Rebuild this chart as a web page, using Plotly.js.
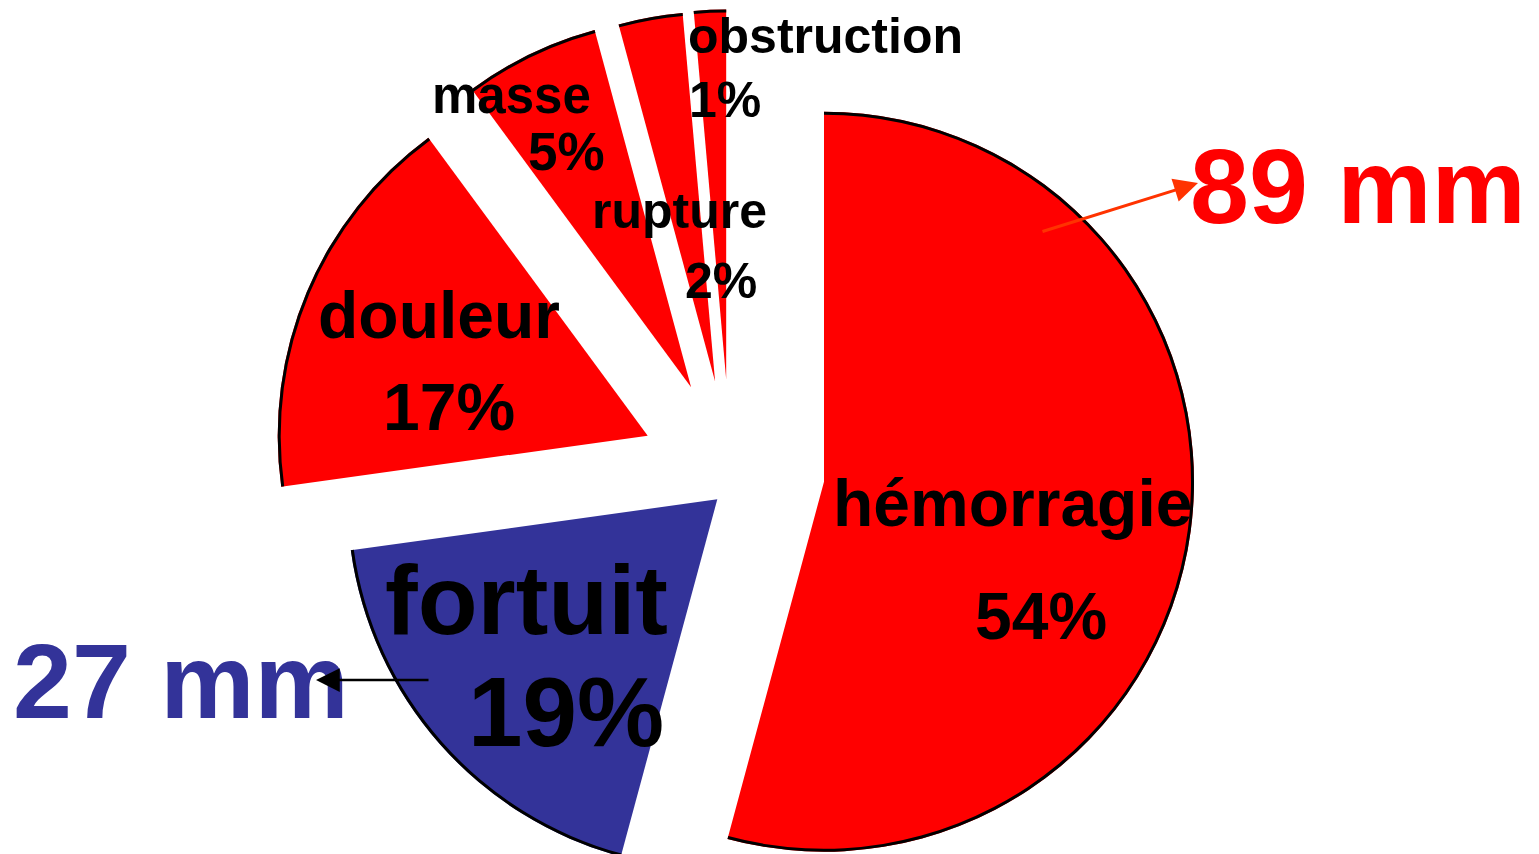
<!DOCTYPE html>
<html><head><meta charset="utf-8">
<script src="https://cdn.plot.ly/plotly-3.0.1.min.js"></script>
<style>
html,body{margin:0;padding:0;overflow:hidden;background:#fff}
#wrap{width:1539px;height:854px;overflow:hidden;position:relative}
#chart{width:1539px;height:874px;position:absolute;left:0;top:0}
</style>
</head><body><div id="wrap"><div id="chart"></div></div>
<script>
// ---- data ----
const categories = ['hémorragie', 'fortuit', 'douleur', 'masse', 'rupture', 'obstruction'];
const values = [54.2, 18.6, 17.1, 5.9, 2.8, 1.4];
const percentLabels = ['54%', '19%', '17%', '5%', '2%', '1%'];
const sizeLabels = ['89 mm', '27 mm'];

// ---- layout / style (pixels) ----
const W = 1539, H = 874, R = 370;
const sliceColors = ['#FF0000', '#333399', '#FF0000', '#FF0000', '#FF0000', '#FF0000'];
// apex of each exploded slice (screen px)
const apex = [[824, 481.7], [717.3, 499.3], [647.7, 435.7], [691.1, 387.3], [715.1, 381.6], [726.2, 379.5]];
// label centres: [nameX, nameY, pctX, pctY, nameFontSize, pctFontSize]
const labelPos = [
  [1012, 503, 1041, 616, 66, 66],
  [526, 600, 566, 712, 98, 98],
  [439, 315, 449, 407, 66, 66],
  [511, 96, 566, 151, 51, 53],
  [679, 211, 721, 281, 50, 50],
  [825, 36, 725, 100, 50, 50]
];
const FONT = 'Liberation Sans, Arial, Helvetica, sans-serif';
const px = x => x / W;
const py = y => 1 - y / H;

const traces = [];
function domainFor(i) {
  const [cx, cy] = apex[i];
  const yb = H - cy;
  return {x: [(cx - R - 10) / W, (cx + R + 10) / W], y: [(yb - R) / H, (yb + R) / H]};
}
categories.forEach((c, i) => {
  traces.push({
    type: 'pie', labels: categories, values: values, sort: false, direction: 'clockwise', rotation: 0,
    domain: domainFor(i), textinfo: 'none', hoverinfo: 'skip', showlegend: false,
    marker: {colors: sliceColors.map((col, j) => j === i ? col : 'rgba(0,0,0,0)'), line: {width: 0}}
  });
});
categories.forEach((c, i) => {
  traces.push({
    type: 'pie', labels: categories, values: values, sort: false, direction: 'clockwise', rotation: 0,
    domain: domainFor(i), hole: (R - 3) / R, textinfo: 'none', hoverinfo: 'skip', showlegend: false,
    marker: {colors: sliceColors.map((col, j) => j === i ? '#000000' : 'rgba(0,0,0,0)'), line: {width: 0}}
  });
});

const annotations = [];
categories.forEach((c, i) => {
  const [nx, ny, ppx, ppy, fs, fs2] = labelPos[i];
  annotations.push({xref: 'paper', yref: 'paper', x: px(nx), y: py(ny), text: '<b>' + c + '</b>', showarrow: false,
    xanchor: 'center', yanchor: 'middle', font: {family: FONT, size: fs, color: '#000'}});
  annotations.push({xref: 'paper', yref: 'paper', x: px(ppx), y: py(ppy), text: '<b>' + percentLabels[i] + '</b>', showarrow: false,
    xanchor: 'center', yanchor: 'middle', font: {family: FONT, size: fs2, color: '#000'}});
});
annotations.push({xref: 'paper', yref: 'paper', x: px(1358), y: py(186), text: '<b>' + sizeLabels[0] + '</b>', showarrow: false,
  xanchor: 'center', yanchor: 'middle', font: {family: FONT, size: 106, color: '#FF0000'}});
annotations.push({xref: 'paper', yref: 'paper', x: px(181), y: py(681), text: '<b>' + sizeLabels[1] + '</b>', showarrow: false,
  xanchor: 'center', yanchor: 'middle', font: {family: FONT, size: 106, color: '#333399'}});
// arrows
annotations.push({xref: 'paper', yref: 'paper', x: px(1198), y: py(183), ax: -157, ay: 49, text: '', showarrow: true,
  arrowhead: 2, arrowsize: 1.6, arrowwidth: 3, arrowcolor: '#FF3300', standoff: 0});
annotations.push({xref: 'paper', yref: 'paper', x: px(316), y: py(680), ax: 114, ay: 0, text: '', showarrow: true,
  arrowhead: 2, arrowsize: 1.9, arrowwidth: 2.5, arrowcolor: '#000000', standoff: 0});

Plotly.newPlot('chart', traces, {
  width: W, height: H, margin: {l: 0, r: 0, t: 0, b: 0},
  paper_bgcolor: '#ffffff', showlegend: false, annotations: annotations
}, {displayModeBar: false, staticPlot: true});
</script>
</body></html>
